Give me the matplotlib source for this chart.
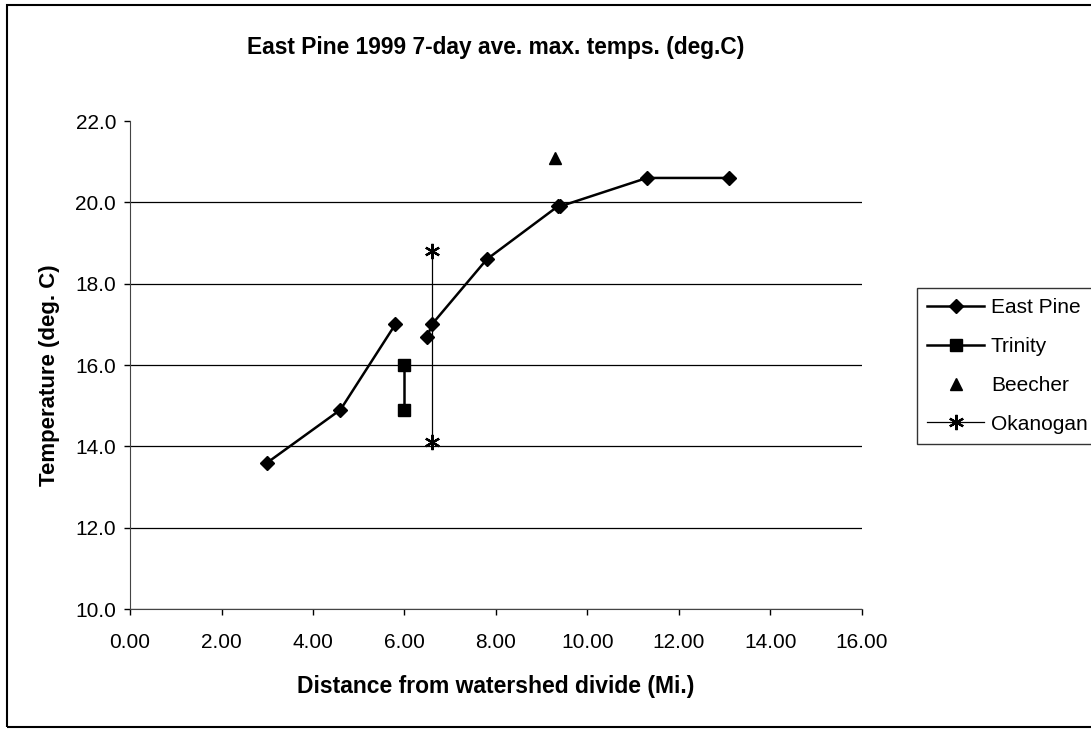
import numpy as np
import matplotlib.pyplot as plt
from matplotlib.patches import Rectangle
from matplotlib.ticker import FormatStrFormatter

plt.rcParams['font.family'] = ['Liberation Sans', 'DejaVu Sans']

# ---------------- data ----------------
east_pine_x = [3.0, 4.6, 5.8, np.nan, 6.5, 6.6, 7.8, 9.35, 9.4, 11.3, 13.1]
east_pine_y = [13.6, 14.9, 17.0, np.nan, 16.7, 17.0, 18.6, 19.9, 19.9, 20.6, 20.6]

trinity_x = [6.0, 6.0]
trinity_y = [16.0, 14.9]

beecher_x = [9.3]
beecher_y = [21.1]

okanogan_x = [6.6, 6.6]
okanogan_y = [18.8, 14.1]

# ---------------- plotting ----------------
fig = plt.figure(figsize=(10.91, 7.29), dpi=100)
ax = fig.add_axes([0.1192, 0.1646, 0.6708, 0.6694])

ax.plot(east_pine_x, east_pine_y, color='black', lw=1.8, marker='D', ms=7,
        label='East Pine')
ax.plot(trinity_x, trinity_y, color='black', lw=1.8, marker='s', ms=9,
        label='Trinity')
ax.plot(beecher_x, beecher_y, color='black', lw=0, marker='^', ms=9,
        label='Beecher')
ax.plot(okanogan_x, okanogan_y, color='black', lw=0.9, marker=(6, 2, 0),
        ms=11, mew=1.6, label='Okanogan')

ax.set_xlim(0, 16)
ax.set_ylim(10, 22)
ax.set_xticks(np.arange(0, 17, 2))
ax.set_yticks(np.arange(10, 23, 2))
ax.xaxis.set_major_formatter(FormatStrFormatter('%.2f'))
ax.yaxis.set_major_formatter(FormatStrFormatter('%.1f'))
ax.tick_params(labelsize=15, direction='out', length=4, width=1)
ax.tick_params(axis='x', pad=13)
ax.tick_params(axis='y', pad=6)

ax.yaxis.grid(True, color='black', lw=0.9)
ax.yaxis.get_gridlines()[-1].set_visible(False)
ax.set_axisbelow(True)
for s in ['top', 'right']:
    ax.spines[s].set_visible(False)
ax.spines['left'].set_color('#444444')
ax.spines['bottom'].set_color('#444444')

ax.set_title('East Pine 1999 7-day ave. max. temps. (deg.C)', fontsize=16.4,
             fontweight='bold', pad=48)
ax.set_xlabel('Distance from watershed divide (Mi.)', fontsize=16.5,
              fontweight='bold')
ax.set_ylabel('Temperature (deg. C)', fontsize=16, fontweight='bold')
ax.xaxis.set_label_coords(0.5, -0.135)
ax.yaxis.set_label_coords(-0.096, 0.48)

leg = fig.legend(loc='upper left', bbox_to_anchor=(0.8405, 0.605),
                 borderaxespad=0, fontsize=15, frameon=True, fancybox=False,
                 edgecolor='black', borderpad=0.5, labelspacing=0.95,
                 handlelength=2.7, handletextpad=0.35)
leg.get_frame().set_linewidth(1.0)

fig.patches.append(Rectangle((0.0065, 0.003), 1.2, 0.99, transform=fig.transFigure,
                             fill=False, edgecolor='black', lw=1.5))

plt.savefig('out.png', dpi=100)
